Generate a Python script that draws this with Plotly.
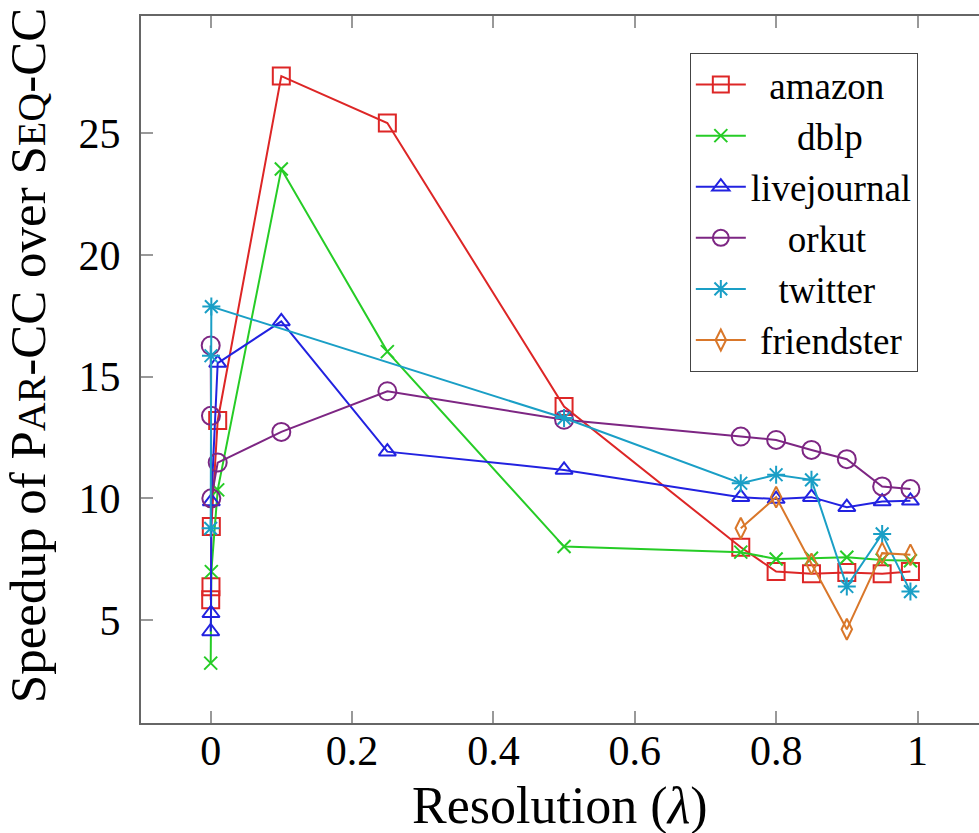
import plotly.graph_objects as go

# ---- data ----
amazon_x = [0.0001, 0.0005, 0.001, 0.01, 0.1, 0.25, 0.5, 0.75, 0.8, 0.85, 0.9, 0.95, 0.99]
amazon_y = [5.83, 6.37, 8.84, 13.2, 27.35, 25.42, 13.77, 7.99, 6.99, 6.9, 6.95, 6.9, 6.99]

dblp_x = [0.0001, 0.001, 0.01, 0.1, 0.25, 0.5, 0.75, 0.8, 0.85, 0.9, 0.95, 0.99]
dblp_y = [3.23, 6.99, 10.35, 23.53, 16.03, 8.02, 7.79, 7.51, 7.54, 7.58, 7.47, 7.44]

livejournal_x = [0.0001, 0.0005, 0.001, 0.01, 0.1, 0.25, 0.5, 0.75, 0.8, 0.85, 0.9, 0.95, 0.99]
livejournal_y = [4.53, 5.28, 9.87, 15.56, 17.27, 11.92, 11.17, 10.05, 9.97, 10.05, 9.64, 9.87, 9.9]

orkut_x = [0.0001, 0.0005, 0.001, 0.01, 0.1, 0.25, 0.5, 0.75, 0.8, 0.85, 0.9, 0.95, 0.99]
orkut_y = [16.28, 13.39, 10.0, 11.47, 12.73, 14.4, 13.23, 12.54, 12.40, 11.99, 11.61, 10.49, 10.38]

twitter_x = [0.0001, 0.0005, 0.001, 0.5, 0.75, 0.8, 0.85, 0.9, 0.95, 0.99]
twitter_y = [8.77, 15.86, 17.88, 13.3, 10.62, 10.97, 10.76, 6.38, 8.54, 6.17]

friendster_x = [0.75, 0.8, 0.85, 0.9, 0.95, 0.99]
friendster_y = [8.77, 10.05, 7.31, 4.62, 7.75, 7.68]

series_names = ["amazon", "dblp", "livejournal", "orkut", "twitter", "friendster"]
x_ticks = [0, 0.2, 0.4, 0.6, 0.8, 1]
x_tick_labels = ["0", "0.2", "0.4", "0.6", "0.8", "1"]
y_ticks = [5, 10, 15, 20, 25]
y_tick_labels = ["5", "10", "15", "20", "25"]

# ---- styles ----
colors = ["#dd2626", "#26cc26", "#2222e0", "#7d2683", "#1a9fc6", "#d9772a"]
symbols = ["square-open", "x-thin-open", "triangle-up-open", "circle-open",
           "asterisk-open", "diamond-tall-open"]
sizes = [17, 13, 15, 18, 15, 15]
pads = [2, 5, 0, 4, 3, 1]

FONT = "'Liberation Serif', 'Times New Roman', Times, serif"
data = [(amazon_x, amazon_y), (dblp_x, dblp_y), (livejournal_x, livejournal_y),
        (orkut_x, orkut_y), (twitter_x, twitter_y), (friendster_x, friendster_y)]

fig = go.Figure()
for i, (xs, ys) in enumerate(data):
    fig.add_trace(go.Scatter(
        x=xs, y=ys, mode="lines+markers",
        name="\u00a0" * pads[i] + series_names[i],
        line=dict(color=colors[i], width=2),
        marker=dict(symbol=symbols[i], size=sizes[i], color=colors[i],
                    line=dict(color=colors[i], width=2)),
    ))

fig.update_layout(
    width=979, height=833,
    margin=dict(l=141, r=0, t=16, b=110),
    paper_bgcolor="white", plot_bgcolor="white",
    font=dict(family=FONT, color="black", size=42),
    showlegend=True,
    legend=dict(
        x=0.927, xanchor="right", y=0.9477, yanchor="top",
        bgcolor="white", bordercolor="#444", borderwidth=1,
        font=dict(family=FONT, size=37, color="black"),
        tracegroupgap=0, itemwidth=50,
    ),
)

fig.update_xaxes(
    range=[-0.0985, 1.087], tickmode="array", tickvals=x_ticks, ticktext=x_tick_labels,
    ticks="inside", ticklen=12, tickwidth=1.5, tickcolor="#999",
    showline=True, linecolor="#666", linewidth=2, mirror="ticks",
    showgrid=False, zeroline=False,
    ticklabelstandoff=-10,
    tickfont=dict(family=FONT, size=42, color="black"),
)
fig.update_yaxes(
    range=[0.77, 29.82], tickmode="array", tickvals=y_ticks, ticktext=y_tick_labels,
    ticks="inside", ticklen=12, tickwidth=1.5, tickcolor="#999",
    showline=True, linecolor="#666", linewidth=2, mirror=False,
    showgrid=False, zeroline=False,
    ticklabelstandoff=10,
    tickfont=dict(family=FONT, size=42, color="black"),
)

# axis titles
fig.add_annotation(
    text="Resolution (<i>λ</i>)", xref="paper", yref="paper",
    x=0.5, y=-0.117, xanchor="center", yanchor="middle", showarrow=False,
    font=dict(family=FONT, size=52, color="black"),
)
fig.add_annotation(
    text='Speedup of P<span style="font-size:40px">AR</span>-CC over '
         'S<span style="font-size:40px">EQ</span>-CC',
    xref="paper", yref="paper", x=-0.135, y=0.52, xanchor="center", yanchor="middle",
    textangle=-90, showarrow=False,
    font=dict(family=FONT, size=51, color="black"),
)

fig.write_html("out.html")
